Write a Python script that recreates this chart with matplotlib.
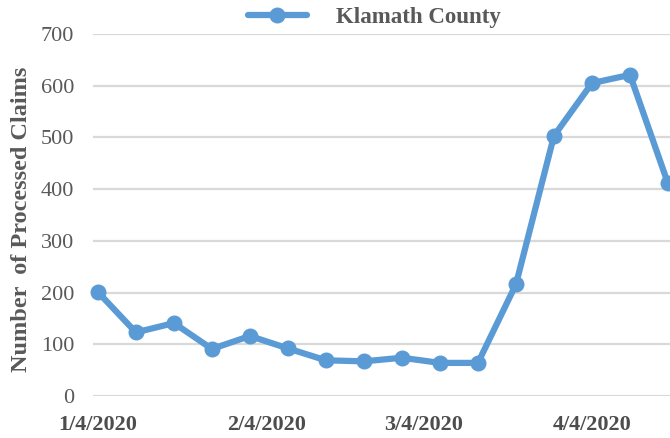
import numpy as np
import matplotlib.pyplot as plt
import datetime as dt

plt.rcParams['font.family'] = ['Liberation Serif', 'DejaVu Serif']

week_dates = ['2020-01-04', '2020-01-11', '2020-01-18', '2020-01-25',
              '2020-02-01', '2020-02-08', '2020-02-15', '2020-02-22',
              '2020-02-29', '2020-03-07', '2020-03-14', '2020-03-21',
              '2020-03-28', '2020-04-04', '2020-04-11', '2020-04-18']
claims = [201, 123, 141, 91, 116, 92, 69, 67, 74, 64, 64, 216, 503, 605, 621, 411]
tick_dates = ['2020-01-04', '2020-02-04', '2020-03-04', '2020-04-04']
tick_labels = ['1/4/2020', '2/4/2020', '3/4/2020', '4/4/2020']

x = [dt.datetime.strptime(d, '%Y-%m-%d') for d in week_dates]
xt = [dt.datetime.strptime(d, '%Y-%m-%d') for d in tick_dates]

W, H = 670, 438
fig = plt.figure(figsize=(W / 100, H / 100), dpi=100)
ax = fig.add_axes([93 / W, (H - 396) / H, (W - 93) / W, (396 - 34) / H])

ax.plot(x, claims, color='#5B9BD5', lw=4.5, marker='o', ms=10.5,
        label='Klamath County', clip_on=False, solid_capstyle='round')

ax.set_ylim(0, 700)
ax.set_yticks(np.arange(0, 701, 100))
ax.set_xlim(x[0] - dt.timedelta(days=0.9), x[-1] + dt.timedelta(days=0.37))
ax.set_xticks(xt)
ax.set_xticklabels(tick_labels, fontsize=16, fontweight='bold', color='#4d4d4d')
ax.tick_params(axis='x', length=0, pad=14)
ax.tick_params(axis='y', length=0, pad=13.5, labelsize=16, labelcolor='#595959')
ax.grid(axis='y', color='#d9d9d9', lw=1.6)
ax.set_axisbelow(True)
for s in ax.spines.values():
    s.set_visible(False)

# clip the line at the right figure edge like the cropped original
ax.set_clip_on(True)

fig.text(22 / W, 1 - 219 / H, 'Number  of Processed Claims', rotation=90,
         ha='center', va='center', fontsize=17.5, fontweight='bold', color='#595959')

leg = fig.legend(loc='center left', bbox_to_anchor=(248 / W, 1 - 17.5 / H),
                 frameon=False, borderpad=0, borderaxespad=0,
                 handlelength=2.57, handletextpad=1.26,
                 prop={'size': 16.5, 'weight': 'bold'})
for t in leg.get_texts():
    t.set_color('#595959')

fig.savefig('out.png', dpi=100)
